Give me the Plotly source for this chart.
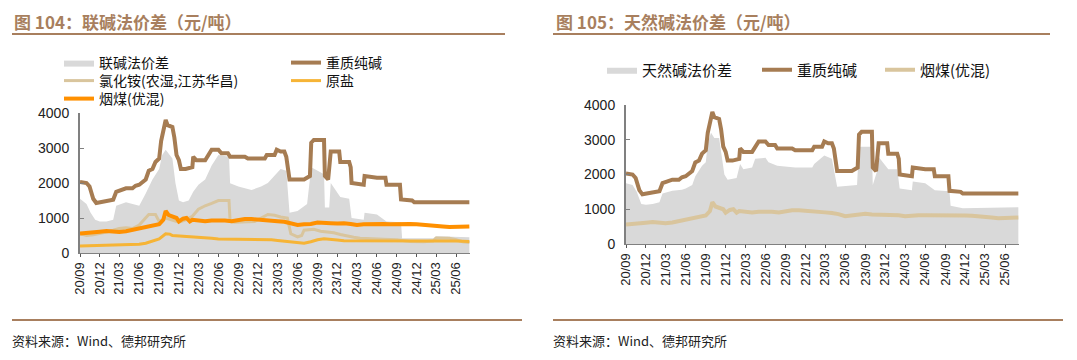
import plotly.graph_objects as go

# page has an 8px body margin: figure occupies (8..1077, 8..360)
OFF = 8
FW, FH = 1077 - OFF, 360 - OFF

# ---------------- data ----------------
heavy_dates = ["2020-09-01", "2020-10-01", "2020-10-15", "2020-11-01", "2020-11-15", "2020-12-01",
               "2021-01-01", "2021-02-01", "2021-02-15", "2021-03-01", "2021-04-01", "2021-05-01",
               "2021-05-15", "2021-06-01", "2021-07-01", "2021-07-15", "2021-08-01", "2021-08-15",
               "2021-09-01", "2021-09-10", "2021-09-20", "2021-10-01", "2021-10-10", "2021-11-01",
               "2021-11-10", "2021-11-20", "2021-12-01", "2021-12-10", "2022-01-01", "2022-02-01",
               "2022-02-05", "2022-02-20", "2022-04-01", "2022-04-15", "2022-05-01", "2022-06-01",
               "2022-06-15", "2022-07-15", "2022-07-25", "2022-10-01", "2022-10-15", "2023-01-01",
               "2023-01-10", "2023-02-15", "2023-02-25", "2023-03-15", "2023-04-01", "2023-04-10",
               "2023-04-25", "2023-07-01", "2023-07-15", "2023-07-28", "2023-08-03", "2023-08-15",
               "2023-10-01", "2023-10-05", "2023-10-20", "2023-10-25", "2023-11-01", "2023-12-10",
               "2023-12-15", "2024-01-25", "2024-02-01", "2024-02-05", "2024-04-01", "2024-04-05",
               "2024-06-01", "2024-07-10", "2024-07-15", "2024-09-15", "2024-09-20", "2024-11-10",
               "2024-11-20", "2025-08-01"]
heavy_vals = [2030, 2000, 1900, 1550, 1430, 1450,
              1470, 1520, 1750, 1780, 1850, 1850,
              1920, 1950, 2100, 2350, 2400, 2600,
              2700, 3200, 3500, 3800, 3650, 3600,
              3300, 2800, 2650, 2400, 2400, 2450,
              2750, 2650, 2650, 2800, 2950, 2950,
              2850, 2850, 2750, 2750, 2700, 2700,
              2800, 2800, 2950, 2900, 2900, 2750,
              2100, 2100, 2150, 2200, 3150, 3230,
              3230, 2200, 2100, 2550, 2900, 2900,
              2600, 2600, 2450, 2000, 1950, 2200,
              2150, 2150, 1950, 1950, 1530, 1500,
              1450, 1450]

coal_dates = ["2020-09-01", "2020-10-01", "2020-11-01", "2020-12-01", "2021-01-01", "2021-02-01",
              "2021-03-01", "2021-04-01", "2021-05-01", "2021-06-01", "2021-07-01", "2021-08-01",
              "2021-09-01", "2021-09-20", "2021-10-01", "2021-10-15", "2021-11-01", "2021-11-20",
              "2021-12-01", "2021-12-20", "2022-01-05", "2022-01-20", "2022-02-01", "2022-03-01",
              "2022-04-01", "2022-05-01", "2022-06-01", "2022-07-01", "2022-08-01", "2022-09-01",
              "2022-10-01", "2022-11-01", "2022-12-01", "2023-01-01", "2023-02-01", "2023-03-01",
              "2023-04-01", "2023-05-01", "2023-06-01", "2023-07-01", "2023-08-01", "2023-09-01",
              "2023-10-01", "2023-11-01", "2023-12-01", "2024-01-01", "2024-02-01", "2024-03-01",
              "2024-04-01", "2024-05-01", "2024-06-01", "2024-07-01", "2024-08-01", "2024-09-01",
              "2024-10-01", "2024-11-01", "2024-12-01", "2025-01-01", "2025-02-01", "2025-03-01",
              "2025-04-01", "2025-05-01", "2025-06-01", "2025-07-01", "2025-08-01"]
coal_vals = [560, 570, 590, 610, 630, 610,
             600, 620, 660, 690, 720, 760,
             820, 950, 1200, 1080, 1040, 1000,
             900, 980, 1000, 900, 950, 940,
             910, 930, 940, 930, 910, 940,
             970, 970, 960, 950, 930, 910,
             890, 860, 800, 820, 830, 870,
             850, 850, 840, 850, 830, 800,
             820, 830, 830, 830, 820, 830,
             840, 830, 820, 810, 800, 780,
             760, 740, 740, 750, 760]

nh4cl_dates = ["2020-09-01", "2020-10-01", "2020-11-01", "2020-12-01", "2021-01-01", "2021-02-01",
               "2021-03-01", "2021-04-01", "2021-05-01", "2021-06-01", "2021-07-01", "2021-07-15",
               "2021-08-15", "2021-09-01", "2021-10-01", "2021-11-01", "2021-12-01", "2022-01-01",
               "2022-02-01", "2022-03-01", "2022-04-01", "2022-05-01", "2022-06-01", "2022-07-20",
               "2022-07-25", "2022-08-15", "2022-10-01", "2022-11-15", "2022-12-15", "2023-01-15",
               "2023-02-15", "2023-03-15", "2023-04-15", "2023-05-01", "2023-06-01", "2023-06-20",
               "2023-07-01", "2023-08-15", "2023-09-15", "2023-10-15", "2023-11-15", "2023-12-15",
               "2024-01-15", "2024-02-15", "2024-03-15", "2024-05-01", "2024-07-01", "2024-09-01",
               "2024-10-01", "2024-11-01", "2025-01-01", "2025-02-15", "2025-03-01", "2025-05-01",
               "2025-06-01", "2025-07-01", "2025-08-01"]
nh4cl_vals = [550, 500, 520, 550, 600, 650,
              700, 720, 700, 800, 1000, 1100,
              1100, 900, 1000, 950, 880, 950,
              1050, 1250, 1350, 1420, 1500, 1500,
              900, 880, 900, 900, 1000, 1100,
              1080, 1030, 1000, 550, 460, 500,
              650, 680, 620, 600, 580, 530,
              500, 450, 420, 400, 390, 380,
              350, 330, 320, 340, 430, 420,
              380, 320, 300]

salt_dates = ["2020-09-01", "2020-12-01", "2021-03-01", "2021-06-01", "2021-07-01", "2021-08-01",
              "2021-09-01", "2021-10-01", "2021-10-20", "2021-11-01", "2021-12-01", "2022-01-01",
              "2022-03-01", "2022-05-01", "2022-06-01", "2022-09-01", "2022-12-01", "2023-02-01",
              "2023-03-01", "2023-04-01", "2023-05-01", "2023-06-01", "2023-07-01", "2023-08-01",
              "2023-09-01", "2023-10-01", "2023-11-01", "2023-12-01", "2024-01-01", "2024-06-01",
              "2024-09-01", "2024-12-01", "2025-03-01", "2025-06-01", "2025-08-01"]
salt_vals = [200, 220, 230, 250, 280, 330,
             400, 550, 540, 500, 490, 480,
             460, 420, 400, 400, 390, 380,
             360, 340, 310, 280, 280, 320,
             380, 410, 400, 370, 350, 340,
             350, 330, 340, 340, 330]

lj_dates = ["2020-09-01", "2020-10-01", "2020-10-20", "2020-11-10", "2020-12-01", "2021-01-01",
            "2021-02-01", "2021-02-15", "2021-04-01", "2021-05-01", "2021-06-01", "2021-07-01",
            "2021-08-01", "2021-09-01", "2021-09-15", "2021-10-01", "2021-11-01", "2021-11-15",
            "2021-12-01", "2021-12-20", "2022-01-15", "2022-02-05", "2022-03-01", "2022-04-01",
            "2022-05-01", "2022-06-01", "2022-07-20", "2022-07-25", "2022-09-01", "2022-11-01",
            "2022-12-15", "2023-01-15", "2023-02-15", "2023-03-15", "2023-04-10", "2023-04-25",
            "2023-06-01", "2023-07-15", "2023-08-03", "2023-09-15", "2023-10-01", "2023-10-05",
            "2023-10-25", "2023-11-01", "2023-12-15", "2024-01-25", "2024-02-05", "2024-04-01",
            "2024-04-05", "2024-06-01", "2024-07-15", "2024-09-20", "2024-09-25", "2025-02-15",
            "2025-03-01", "2025-08-01"]
lj_vals = [1550, 1400, 1150, 950, 900, 900,
           950, 1350, 1450, 1400, 1350, 1700,
           2100, 2400, 2800, 2950, 2700, 2000,
           1500, 1450, 1500, 1750, 1950, 2100,
           2500, 2800, 2750, 1990, 1900, 1800,
           1900, 2000, 2200, 2400, 2350, 1150,
           1200, 1400, 2450, 2300, 2250, 1300,
           1300, 2000, 1600, 1550, 1000, 950,
           1150, 1100, 900, 880, 420, 420,
           480, 450]

nat_dates = ["2020-09-01", "2020-10-01", "2020-10-20", "2020-11-10", "2020-12-01", "2021-01-01",
             "2021-02-01", "2021-02-15", "2021-04-01", "2021-05-15", "2021-06-01", "2021-07-01",
             "2021-07-15", "2021-08-15", "2021-09-01", "2021-09-10", "2021-09-25", "2021-10-10",
             "2021-11-01", "2021-11-10", "2021-11-25", "2021-12-10", "2022-01-20", "2022-02-05",
             "2022-02-20", "2022-04-01", "2022-04-15", "2022-06-01", "2022-06-15", "2022-07-25",
             "2022-10-15", "2023-01-01", "2023-01-10", "2023-02-25", "2023-04-01", "2023-04-25",
             "2023-07-25", "2023-08-03", "2023-10-01", "2023-10-05", "2023-10-25", "2023-11-01",
             "2023-12-15", "2024-01-25", "2024-02-05", "2024-04-01", "2024-04-05", "2024-06-01",
             "2024-07-15", "2024-09-20", "2024-09-25", "2024-11-20", "2025-08-01"]
nat_vals = [1750, 1700, 1500, 1150, 1130, 1150,
            1200, 1450, 1530, 1560, 1600, 1700,
            1950, 2250, 2350, 2900, 3200, 3050,
            3050, 2600, 2000, 1850, 1900, 2300,
            2150, 2200, 2450, 2480, 2350, 2250,
            2200, 2200, 2300, 2550, 2450, 1650,
            1700, 2800, 2800, 1700, 2100, 2500,
            2150, 2150, 1600, 1550, 1800, 1750,
            1550, 1520, 1100, 1030, 1060]

tick_dates = ["2020-09-01", "2020-12-01", "2021-03-01", "2021-06-01", "2021-09-01", "2021-12-01",
              "2022-03-01", "2022-06-01", "2022-09-01", "2022-12-01", "2023-03-01", "2023-06-01",
              "2023-09-01", "2023-12-01", "2024-03-01", "2024-06-01", "2024-09-01", "2024-12-01",
              "2025-03-01", "2025-06-01"]
tick_labels = ["20/09", "20/12", "21/03", "21/06", "21/09", "21/12",
               "22/03", "22/06", "22/09", "22/12", "23/03", "23/06",
               "23/09", "23/12", "24/03", "24/06", "24/09", "24/12",
               "25/03", "25/06"]
y_ticks = [0, 1000, 2000, 3000, 4000]

# ---------------- styles ----------------
BROWN = "#A67C52"
GRAY = "#D9D9D9"
TAN = "#D9C59D"
SALT = "#F6B436"
ORANGE = "#FF9000"
TITLE_C = "#A87F5E"
CJK = "Noto Sans CJK SC"
NUM = "Liberation Sans, Arial"


def PX(p):
    return (p - OFF) / FW


def PY(p):
    return 1 - (p - OFF) / FH


fig = go.Figure()

# left chart
fig.add_trace(go.Scatter(x=lj_dates, y=lj_vals, name="联碱法价差", fill="tozeroy",
                         fillcolor=GRAY, line=dict(width=0, color=GRAY),
                         mode="lines", xaxis="x", yaxis="y", legend="legend", legendwidth=182))
fig.add_trace(go.Scatter(x=heavy_dates, y=heavy_vals, name="重质纯碱", mode="lines",
                         line=dict(color=BROWN, width=4), xaxis="x", yaxis="y", legend="legend"))
fig.add_trace(go.Scatter(x=nh4cl_dates, y=nh4cl_vals, name="氯化铵(农湿,江苏华昌)", mode="lines",
                         line=dict(color=TAN, width=3), xaxis="x", yaxis="y", legend="legend2",
                         legendwidth=182))
fig.add_trace(go.Scatter(x=salt_dates, y=salt_vals, name="原盐", mode="lines",
                         line=dict(color=SALT, width=3), xaxis="x", yaxis="y", legend="legend2"))
fig.add_trace(go.Scatter(x=coal_dates, y=coal_vals, name="烟煤(优混)", mode="lines",
                         line=dict(color=ORANGE, width=4), xaxis="x", yaxis="y", legend="legend3"))

# right chart
fig.add_trace(go.Scatter(x=nat_dates, y=nat_vals, name="天然碱法价差", fill="tozeroy",
                         fillcolor=GRAY, line=dict(width=0, color=GRAY),
                         mode="lines", xaxis="x2", yaxis="y2", legend="legend4", legendwidth=110))
fig.add_trace(go.Scatter(x=heavy_dates, y=heavy_vals, name="重质纯碱", mode="lines",
                         line=dict(color=BROWN, width=4), xaxis="x2", yaxis="y2", legend="legend4",
                         legendwidth=78))
fig.add_trace(go.Scatter(x=coal_dates, y=coal_vals, name="烟煤(优混)", mode="lines",
                         line=dict(color=TAN, width=4), xaxis="x2", yaxis="y2", legend="legend4"))


def xa(d0, d1):
    return dict(domain=[PX(d0), PX(d1)], range=["2020-09-01", "2025-08-04"], type="date",
                tickmode="array", tickvals=tick_dates, ticktext=tick_labels, tickangle=-90,
                ticks="outside", ticklen=3, tickcolor="#555", showline=True, linecolor="#808080",
                linewidth=1, showgrid=False, zeroline=False,
                tickfont=dict(family=NUM, size=13, color="#222"))


def ya(top, bot):
    return dict(domain=[PY(bot), PY(top)], range=[0, 4000], tickmode="array",
                tickvals=y_ticks, ticks="inside", ticklen=4, tickcolor="#808080", showline=True,
                linecolor="#808080", linewidth=2, showgrid=False, zeroline=False,
                tickfont=dict(family=NUM, size=14, color="#222"), ticklabelstandoff=6)


def leg(x, y, size=14):
    return dict(orientation="h", x=PX(x), y=PY(y), xanchor="left", yanchor="middle",
                bgcolor="rgba(0,0,0,0)", font=dict(family=CJK, size=size, color="#111"),
                itemwidth=30, tracegroupgap=0, entrywidthmode="pixels")


def hline(x0, x1, y):
    return dict(type="line", xref="paper", yref="paper", x0=PX(x0), x1=PX(x1), y0=PY(y),
                y1=PY(y), line=dict(color=TITLE_C, width=2))


def note(text, x, y, size, color, yanchor="middle"):
    return dict(text=text, xref="paper", yref="paper", x=PX(x), y=PY(y), xanchor="left",
                yanchor=yanchor, showarrow=False, borderpad=0,
                font=dict(family=CJK, size=size, color=color))


lay_x = xa(80, 470)
lay_x2 = xa(626, 1019)
lay_x2["anchor"] = "y2"
lay_y2 = ya(105, 244)
lay_y2["anchor"] = "x2"

fig.update_layout(
    width=FW, height=FH, margin=dict(l=0, r=0, t=0, b=0, autoexpand=False),
    paper_bgcolor="white", plot_bgcolor="white",
    xaxis=lay_x, yaxis=ya(113, 253), xaxis2=lay_x2, yaxis2=lay_y2,
    legend=leg(59, 63), legend2=leg(59, 81), legend3=leg(59, 99),
    legend4=leg(602, 70, 15),
    showlegend=True,
    shapes=[hline(12, 505, 34), hline(553, 1050, 34), hline(12, 522, 320), hline(553, 1063, 320)],
    annotations=[
        note("<b>图 104：联碱法价差（元/吨）</b>", 13, 8, 17, TITLE_C, "top"),
        note("<b>图 105：天然碱法价差（元/吨）</b>", 555, 8, 17, TITLE_C, "top"),
        note("资料来源：Wind、德邦研究所", 11, 340, 13, "#222"),
        note("资料来源：Wind、德邦研究所", 552, 340, 13, "#222"),
    ],
)

fig.write_html("out.html")
